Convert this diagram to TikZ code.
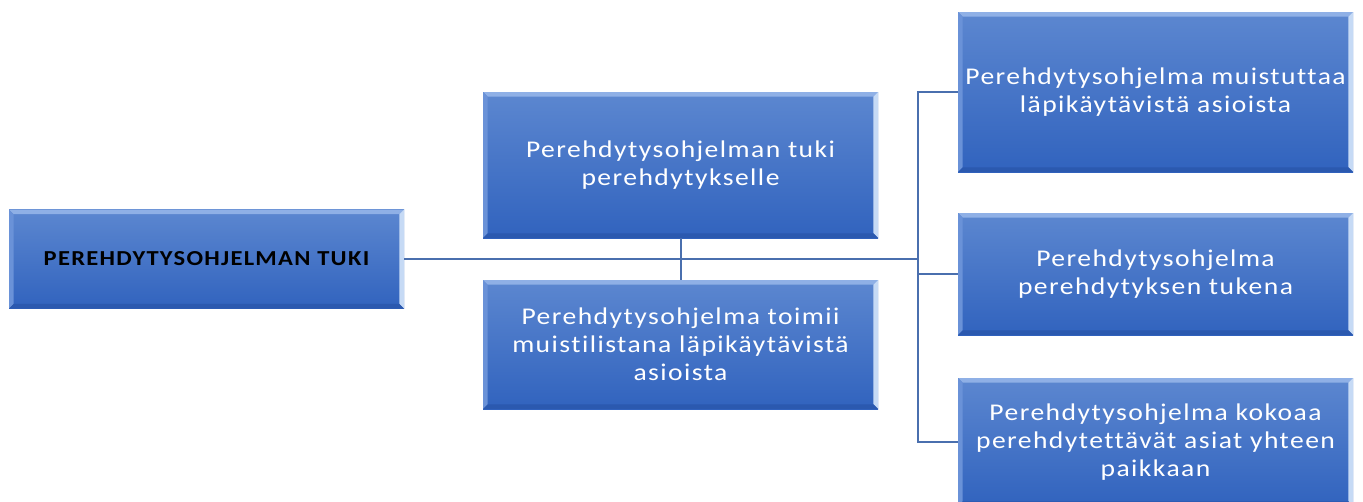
\documentclass[tikz,border=0pt]{standalone}
\usepackage{fontspec}
\setmainfont{Carlito}
\newfontfamily\boxfont[LetterSpace=6,FakeStretch=1.15,Ligatures=NoCommon]{Carlito}
\newfontfamily\rootfont[LetterSpace=6,FakeStretch=1.15,Ligatures=NoCommon]{Carlito}
\definecolor{boxtop}{HTML}{5C87D0}
\definecolor{boxbot}{HTML}{3163BE}
\definecolor{bevtop}{HTML}{8FB0E6}
\definecolor{bevleft}{HTML}{6A92D8}
\definecolor{bevright}{HTML}{C6DAF5}
\definecolor{bevbot}{HTML}{2B59AF}
\definecolor{linkcol}{HTML}{4A6FAE}
\tikzset{
  box/.style={rectangle, inner sep=0pt, minimum width=296.25pt,
    top color=boxtop, bottom color=boxbot, draw=none, text=white, align=center,
    font={\boxfont\fontsize{18}{21}\selectfont},
    path picture={
      \fill[bevtop] (path picture bounding box.north west) -- (path picture bounding box.north east)
        -- ([xshift=-3.5pt,yshift=-3.5pt]path picture bounding box.north east)
        -- ([xshift=3.5pt,yshift=-3.5pt]path picture bounding box.north west) -- cycle;
      \fill[bevright] (path picture bounding box.north east) -- (path picture bounding box.south east)
        -- ([xshift=-3.5pt,yshift=3.5pt]path picture bounding box.south east)
        -- ([xshift=-3.5pt,yshift=-3.5pt]path picture bounding box.north east) -- cycle;
      \fill[bevleft] (path picture bounding box.north west) -- (path picture bounding box.south west)
        -- ([xshift=3.5pt,yshift=3.5pt]path picture bounding box.south west)
        -- ([xshift=3.5pt,yshift=-3.5pt]path picture bounding box.north west) -- cycle;
      \fill[bevbot] (path picture bounding box.south west) -- (path picture bounding box.south east)
        -- ([xshift=-3.5pt,yshift=3.5pt]path picture bounding box.south east)
        -- ([xshift=3.5pt,yshift=3.5pt]path picture bounding box.south west) -- cycle;
    }},
  rootbox/.style={box, text=black, font={\rootfont\bfseries\fontsize{16}{19}\selectfont}},
  link/.style={draw=linkcol, line width=1.5pt}
}
\begin{document}
\begin{tikzpicture}[x=0.75pt, y=-0.75pt]
  \fill[white] (0,0) rectangle (1363,501);
  \useasboundingbox (0,0) rectangle (1363,501);
  \clip (0,0) rectangle (1363,501);

  % root of the tree
  \node[rootbox, minimum height=74.25pt] (root) at (206.5,259) {PEREHDYTYSOHJELMAN TUKI};

  % middle column
  \node[box, minimum height=109.5pt] (mt) at (680.5,165) {Perehdytysohjelman tuki\\perehdytykselle};
  \node[box, minimum height=96.75pt] (mb) at (680.5,344.5) {Perehdytysohjelma toimii\\muistilistana läpikäytävistä\\asioista};

  % right column
  \node[box, minimum height=120pt] (r1) at (1155.5,92) {Perehdytysohjelma muistuttaa\\läpikäytävistä asioista};
  \node[box, minimum height=91.5pt] (r2) at (1155.5,274) {Perehdytysohjelma\\perehdytyksen tukena};
  \node[box, minimum height=96pt] (r3) at (1155.5,442) {Perehdytysohjelma kokoaa\\perehdytettävät asiat yhteen\\paikkaan};

  % connectors
  \coordinate (bus) at (918,259);
  \draw[link] (mt.south) -- (mb.north);
  \draw[link] (root.east) -- (bus);
  \draw[link] (r1.west) -- (r1.west -| bus) -- (r3.west -| bus) -- (r3.west);
  \draw[link] (r2.west) -- (r2.west -| bus);
\end{tikzpicture}
\end{document}
